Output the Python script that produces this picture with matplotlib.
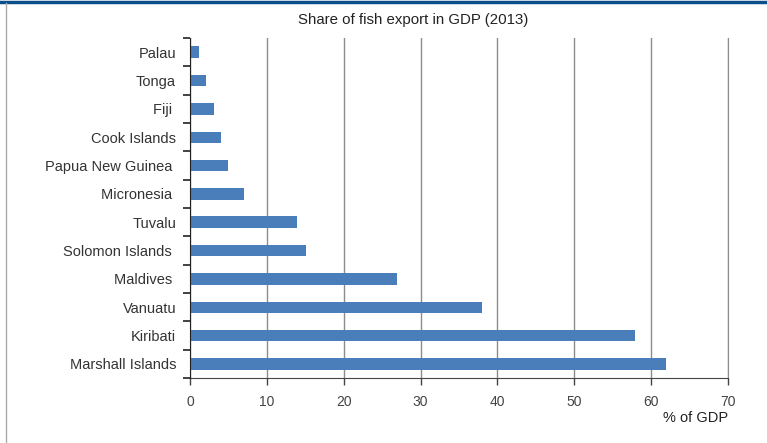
import matplotlib.pyplot as plt
import numpy as np

countries = ['Marshall Islands', 'Kiribati', 'Vanuatu', 'Maldives ', 'Solomon Islands ',
             'Tuvalu', 'Micronesia ', 'Papua New Guinea ', 'Cook Islands', 'Fiji ', 'Tonga', 'Palau']
share = [61.9, 57.9, 38.0, 26.9, 15.1, 13.9, 7.0, 4.9, 4.0, 3.1, 2.1, 1.2]
xticks = [0, 10, 20, 30, 40, 50, 60, 70]

plt.rcParams['font.family'] = ['Liberation Sans', 'DejaVu Sans']

fig = plt.figure(figsize=(7.67, 4.43), dpi=100)
ax = fig.add_axes([190/767, 1-378/443, 538/767, 340/443])

y = np.arange(len(countries))
ax.barh(y, share, height=0.4, color='#4a7ebb', zorder=3)

ax.set_xlim(0, 70)
ax.set_ylim(-0.5, len(countries)-0.5)
ax.set_xticks(xticks)
ax.tick_params(axis='x', colors='#444444', labelsize=10, length=5, width=1, pad=7)
ax.xaxis.grid(True, color='#8c8c8c', linewidth=1)

ax.set_yticks(np.arange(-0.5, len(countries)), minor=False)
ax.set_yticklabels([])
ax.set_yticks(y, minor=True)
ax.set_yticklabels(countries, minor=True)
ax.tick_params(axis='y', which='major', length=5, width=1.2, color='#222222')
ax.tick_params(axis='y', which='minor', length=0, labelsize=10.5, labelcolor='#333333', pad=10)

ax.spines['top'].set_visible(False)
ax.spines['right'].set_color('#8c8c8c')
ax.spines['left'].set_color('#222222')
ax.spines['bottom'].set_color('#444444')
ax.spines['left'].set_zorder(4)

fig.text(413/767, 1-20/443, 'Share of fish export in GDP (2013)', ha='center', va='center',
         fontsize=10.8, color='#222222')
fig.text(728/767, 1-418/443, '% of GDP', ha='right', va='center', fontsize=10.5, color='#222222')

# frame
fig.add_artist(plt.Line2D([0, 1], [1-1.5/443, 1-1.5/443], color='#0a4f8a', linewidth=2.5))
fig.add_artist(plt.Line2D([6/767, 6/767], [0, 1-3/443], color='#aaaaaa', linewidth=1))

plt.savefig('out.png', dpi=100)
